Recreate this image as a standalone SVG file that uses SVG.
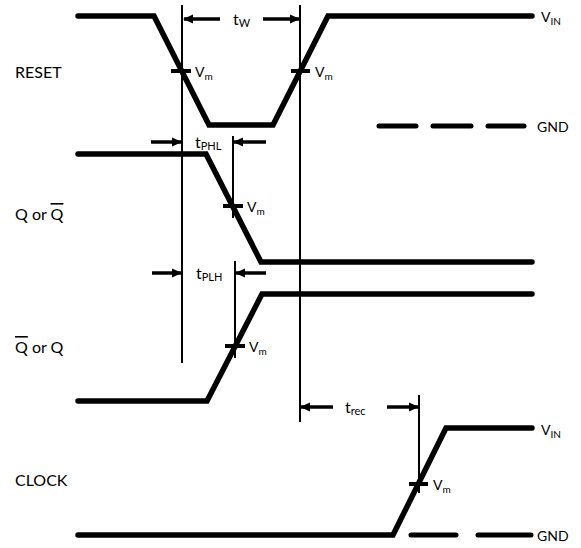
<svg xmlns="http://www.w3.org/2000/svg" width="581" height="548" viewBox="0 0 581 548">
<style>
.wave{fill:none;stroke:#000;stroke-width:5.5;stroke-linecap:round;stroke-linejoin:miter}
.dash{fill:none;stroke:#000;stroke-width:5;stroke-linecap:round}
.guide{fill:none;stroke:#000;stroke-width:2}
.tick{fill:none;stroke:#000;stroke-width:4}
.arr{fill:none;stroke:#000;stroke-width:3.5}
text{font-family:Lato,"Liberation Sans",sans-serif;fill:#000}
.lbl{font-size:16px}
.vm{font-size:14px}
.sub{font-size:10px}
.t{font-size:16px}
.ts{font-size:11px}
.ov{text-decoration:overline}
</style>
<defs>
<marker id="ah" markerWidth="10" markerHeight="10" refX="9" refY="5" orient="auto" markerUnits="userSpaceOnUse">
<path d="M0,0.5 L10,5 L0,9.5 Z" fill="#000"/>
</marker>
</defs>
<rect width="581" height="548" fill="#fff"/>

<g id="labels">
<text class="lbl" x="15" y="78">RESET</text>
<text class="lbl" x="15" y="220">Q or <tspan class="ov">Q</tspan></text>
<text class="lbl" x="15" y="353"><tspan class="ov">Q</tspan> or Q</text>
<text class="lbl" x="15" y="486">CLOCK</text>
</g>

<g id="reset">
<path class="wave" d="M78,16 L154,16 L209,125 L273,125 L328,16 L532,16"/>
<path class="dash" d="M379,126 L416,126 M433,126 L471,126 M488,126 L524,126"/>
<text class="vm" x="541" y="22">V<tspan class="sub" dy="3">IN</tspan></text>
<text class="vm" x="537" y="132">GND</text>
<line class="tick" x1="171" y1="71" x2="191" y2="71"/>
<text class="vm" x="195" y="77">V<tspan class="sub" dy="3">m</tspan></text>
<line class="tick" x1="291" y1="71" x2="310" y2="71"/>
<text class="vm" x="315" y="77">V<tspan class="sub" dy="3">m</tspan></text>
</g>

<g id="q">
<path class="wave" d="M78,154 L206,154 L261,262 L532,262"/>
<line class="tick" x1="223" y1="206" x2="243" y2="206"/>
<text class="vm" x="247" y="212">V<tspan class="sub" dy="3">m</tspan></text>
</g>

<g id="qbar">
<path class="wave" d="M78,401 L207,401 L262,294 L532,294"/>
<line class="tick" x1="225" y1="346" x2="245" y2="346"/>
<text class="vm" x="249" y="352">V<tspan class="sub" dy="3">m</tspan></text>
</g>

<g id="clock">
<path class="wave" d="M78,535 L393,535 L446,428 L532,428"/>
<path class="dash" d="M411,535 L456,535 M478,535 L531,535"/>
<text class="vm" x="541" y="435">V<tspan class="sub" dy="3">IN</tspan></text>
<text class="vm" x="537" y="541">GND</text>
<line class="tick" x1="409" y1="484" x2="428" y2="484"/>
<text class="vm" x="433" y="490">V<tspan class="sub" dy="3">m</tspan></text>
</g>

<g id="connectors">
<line class="guide" x1="182" y1="5" x2="182" y2="363"/>
<line class="guide" x1="300" y1="5" x2="300" y2="422"/>
<line class="guide" x1="233" y1="136" x2="233" y2="218"/>
<line class="guide" x1="235" y1="261" x2="235" y2="358"/>
<line class="guide" x1="419" y1="395" x2="419" y2="493"/>
<line class="arr" x1="220" y1="19" x2="184" y2="19" marker-end="url(#ah)"/>
<line class="arr" x1="263" y1="19" x2="299" y2="19" marker-end="url(#ah)"/>
<line class="arr" x1="151" y1="142" x2="181" y2="142" marker-end="url(#ah)"/>
<line class="arr" x1="266" y1="142" x2="234" y2="142" marker-end="url(#ah)"/>
<line class="arr" x1="152" y1="273" x2="181" y2="273" marker-end="url(#ah)"/>
<line class="arr" x1="266" y1="273" x2="236" y2="273" marker-end="url(#ah)"/>
<line class="arr" x1="333" y1="407" x2="301" y2="407" marker-end="url(#ah)"/>
<line class="arr" x1="387" y1="407" x2="418" y2="407" marker-end="url(#ah)"/>
</g>

<g id="timing-labels">
<text class="t" x="233" y="25">t<tspan class="ts" dy="2">W</tspan></text>
<text class="t" x="195" y="148">t<tspan class="ts" dy="2">PHL</tspan></text>
<text class="t" x="196" y="279">t<tspan class="ts" dy="2">PLH</tspan></text>
<text class="t" x="345" y="413">t<tspan class="ts" dy="2">rec</tspan></text>
</g>
</svg>
